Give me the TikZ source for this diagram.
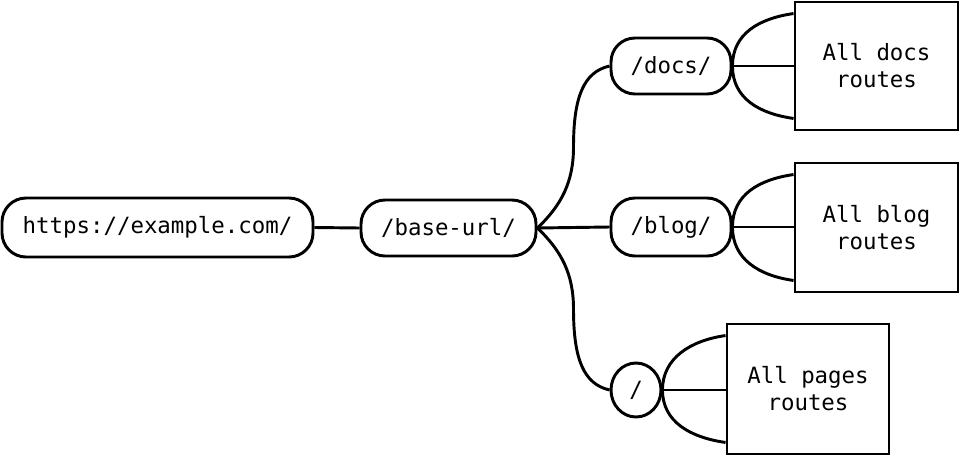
\documentclass[tikz,border=0pt]{standalone}
\usepackage{fontspec}
\setmonofont{DejaVu Sans Mono}
\usetikzlibrary{shapes.geometric,calc}
\tikzset{
  lbl/.style={font=\ttfamily\fontsize{16.8}{20.25}\selectfont, align=center, inner sep=0pt},
  pill/.style={lbl, draw, line width=2.2pt, rounded corners=18pt},
  oval/.style={lbl, draw, line width=2.2pt, ellipse},
  routebox/.style={lbl, draw, line width=2.2pt},
  conn/.style={line width=2.2pt},
}
\begin{document}
\begin{tikzpicture}[x=0.75pt,y=-0.75pt]
\useasboundingbox (0,0) rectangle (960,457);
\node[pill, minimum width=233.25pt, minimum height=44.25pt] (root) at (157.5,227.5) {https://example.com/};
\node[pill, minimum width=131.25pt, minimum height=42pt] (base) at (448.5,228) {/base-url/};
\node[pill, minimum width=90pt, minimum height=42pt] (docs) at (671,66) {/docs/};
\node[pill, minimum width=90pt, minimum height=43.5pt] (blog) at (671,227) {/blog/};
\node[oval, minimum width=37.5pt, minimum height=40.5pt] (slash) at (636,390) {/};
\node[routebox, minimum width=122.25pt, minimum height=96pt] (bdocs) at (876.5,66) {All docs\\routes};
\node[routebox, minimum width=122.25pt, minimum height=96.75pt] (bblog) at (876.5,227.5) {All blog\\routes};
\node[routebox, minimum width=121.5pt, minimum height=97.5pt] (bpages) at (808,389) {All pages\\routes};

\coordinate (mup) at ($(base.east)!0.5!(docs.west)$);
\coordinate (mdn) at ($(base.east)!0.5!(slash.west)$);

\draw[conn] (root.east) -- (base.west);
\draw[conn] (base.east) .. controls +(24,-23) and +(0,35) .. (mup)
            .. controls +(0,-50) and +(-26,6) .. (docs.west);
\draw[conn] (base.east) -- (blog.west);
\draw[conn] (base.east) .. controls +(24,23) and +(0,-35) .. (mdn)
            .. controls +(0,50) and +(-26,-6) .. (slash.west);

\foreach \src/\dst in {docs/bdocs, blog/bblog, slash/bpages}{
  \draw[conn] (\src.east) .. controls +(0,-32) and +(-35,5) .. ($(\dst.north west)+(0,13)$);
  \draw[conn] (\src.east) -- (\src.east -| \dst.west);
  \draw[conn] (\src.east) .. controls +(0,32) and +(-35,-5) .. ($(\dst.south west)+(0,-13)$);
}
\end{tikzpicture}
\end{document}
